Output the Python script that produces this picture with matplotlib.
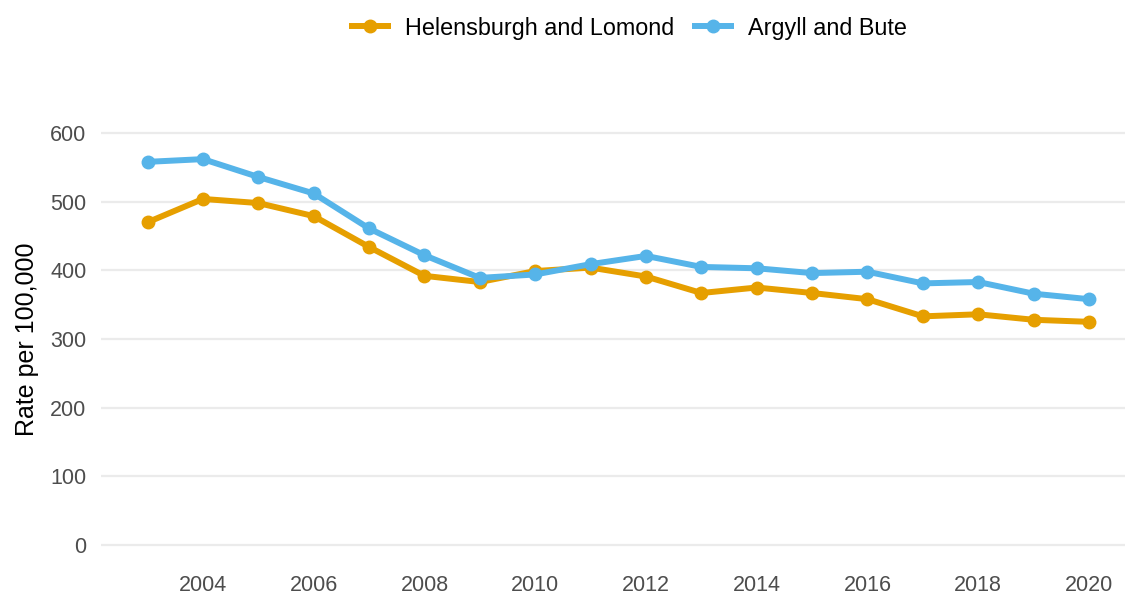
import matplotlib
matplotlib.use("Agg")
import matplotlib.pyplot as plt

years = list(range(2003, 2021))
helensburgh = [470, 504, 498, 479, 434, 392, 383, 399, 404, 391, 367, 375, 367, 358, 333, 336, 328, 325]
argyll = [558, 562, 536, 512, 461, 422, 389, 394, 409, 421, 405, 403, 396, 398, 381, 383, 366, 358]
series_names = ["Helensburgh and Lomond", "Argyll and Bute"]
colors = ["#E69F00", "#56B4E9"]
xticks = list(range(2004, 2021, 2))
yticks = [0, 100, 200, 300, 400, 500, 600]

plt.rcParams['font.family'] = ['Liberation Sans', 'DejaVu Sans']

fig = plt.figure(figsize=(11.25, 5.98), dpi=100)
ax = fig.add_axes([100.5/1125, 0.0542, 1 - 100.5/1125, 0.812 - 0.0542])

for vals, name, c in zip([helensburgh, argyll], series_names, colors):
    ax.plot(years, vals, color=c, lw=4.3, marker='o', markersize=9,
            label=name, solid_capstyle='butt', zorder=3)

ax.set_xlim(2003 - 0.85, 2020 + (1125 - 1089) / 55.375)
ax.set_ylim(-30, 630)
ax.set_xticks(xticks)
ax.set_xticklabels([str(x) for x in xticks])
ax.set_yticks(yticks)
ax.set_yticklabels([str(y) for y in yticks])
ax.grid(axis='y', color='#ebebeb', lw=1.6)
ax.grid(axis='x', visible=False)
ax.set_axisbelow(True)
for s in ax.spines.values():
    s.set_visible(False)
ax.tick_params(axis='both', length=0, labelsize=15.5, labelcolor='#4d4d4d')
ax.tick_params(axis='y', pad=10)
ax.tick_params(axis='x', pad=7)
ax.set_ylabel("Rate per 100,000", fontsize=18, color='black', labelpad=8)

fig.legend(loc='center', bbox_to_anchor=(628/1125, 1 - 28/598), ncol=2,
           frameon=False, fontsize=16.8, handlelength=1.8, columnspacing=0.75,
           handletextpad=0.6)

fig.savefig("out.png", dpi=100)
